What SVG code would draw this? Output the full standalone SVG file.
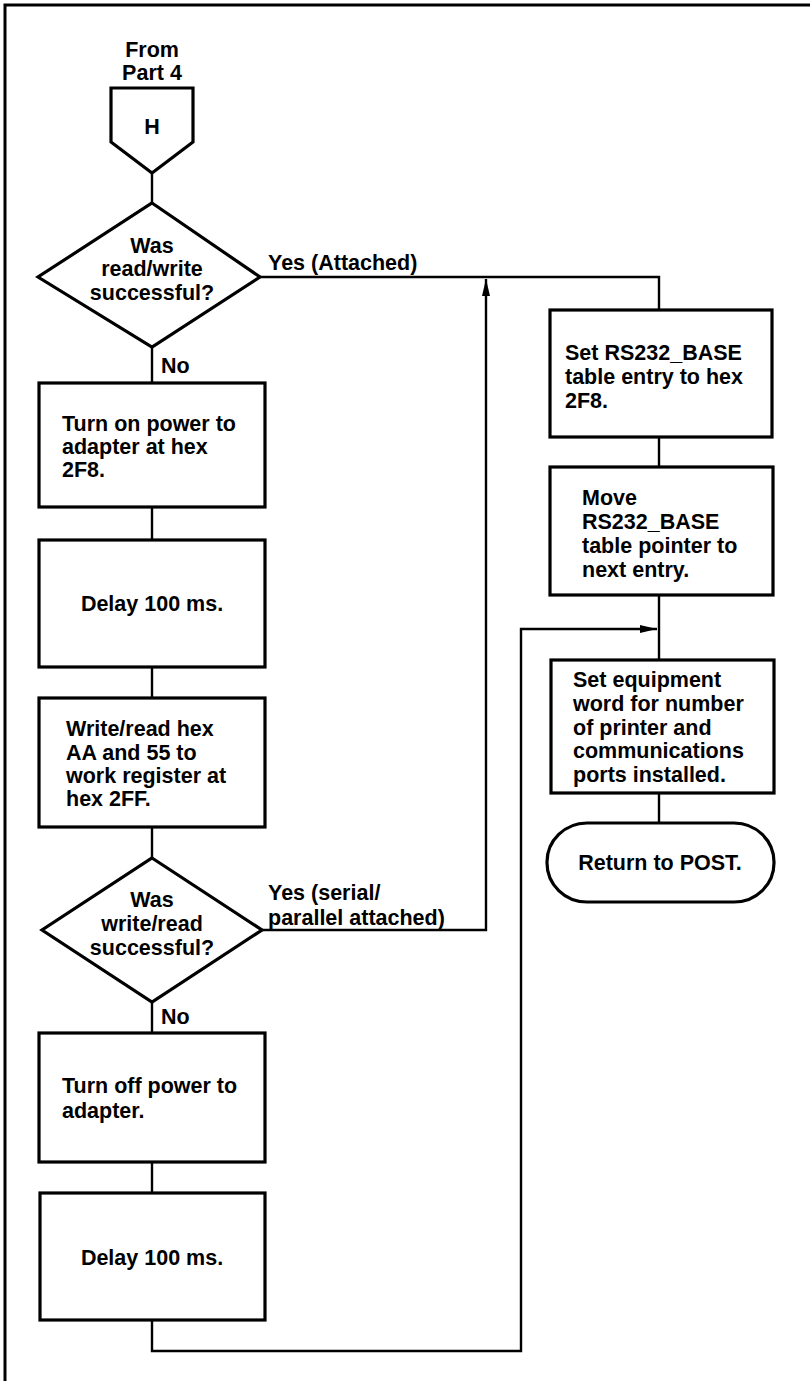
<svg xmlns="http://www.w3.org/2000/svg" width="810" height="1381" viewBox="0 0 810 1381">
  <style>
    .frame { fill: none; stroke: #000; stroke-width: 3; }
    .shape { fill: #fff; stroke: #000; stroke-width: 3.2; stroke-linejoin: miter; }
    .link { fill: none; stroke: #000; stroke-width: 2.4; }
    text { font-family: "Liberation Sans", Arial, Helvetica, sans-serif; font-weight: bold; font-size: 21.5px; fill: #000; }
    .c { text-anchor: middle; }
  </style>
  <defs>
    <marker id="arrow" markerUnits="userSpaceOnUse" markerWidth="18" markerHeight="10" refX="17" refY="5" orient="auto">
      <path d="M0,1 L17,5 L0,9 Z" fill="#000"/>
    </marker>
  </defs>

  <rect width="810" height="1381" fill="#fff"/>
  <!-- page frame (top and left rules) -->
  <path class="frame" d="M5,1381 V5 H810"/>

  <!-- connectors -->
  <g id="connectors">
    <line class="link" x1="152" y1="173" x2="152" y2="203"/>
    <line class="link" x1="152" y1="347" x2="152" y2="383"/>
    <line class="link" x1="152" y1="507" x2="152" y2="540"/>
    <line class="link" x1="152" y1="667" x2="152" y2="698"/>
    <line class="link" x1="152" y1="827" x2="152" y2="858"/>
    <line class="link" x1="152" y1="1002" x2="152" y2="1033"/>
    <line class="link" x1="152" y1="1162" x2="152" y2="1193"/>
    <!-- yes from first decision to right column -->
    <path class="link" d="M260,277 H659 V310"/>
    <!-- yes from second decision joins upward -->
    <path class="link" d="M262,930 H486 V279" marker-end="url(#arrow)"/>
    <!-- right column -->
    <line class="link" x1="659" y1="437" x2="659" y2="467"/>
    <line class="link" x1="659" y1="595" x2="659" y2="660"/>
    <line class="link" x1="659" y1="793" x2="659" y2="823"/>
    <!-- loop back from final delay -->
    <path class="link" d="M152,1320 V1351 H521 V629 H657" marker-end="url(#arrow)"/>
  </g>

  <!-- off-page connector H -->
  <g id="entry-h">
    <text class="c" x="152" y="57">From</text>
    <text class="c" x="152" y="80">Part 4</text>
    <path class="shape" d="M111,88 H193 V142 L152,173 L111,142 Z"/>
    <text class="c" x="152" y="134">H</text>
  </g>

  <g id="decision-read-write">
    <path class="shape" d="M152,203 L260,277 L152,347 L38,277 Z"/>
    <text class="c" x="152" y="253">Was</text>
    <text class="c" x="152" y="276">read/write</text>
    <text class="c" x="152" y="300">successful?</text>
    <text x="268" y="270">Yes (Attached)</text>
    <text x="161" y="373">No</text>
  </g>

  <g id="power-on">
    <rect class="shape" x="39" y="383" width="226" height="124"/>
    <text x="62" y="431">Turn on power to</text>
    <text x="62" y="454">adapter at hex</text>
    <text x="62" y="477">2F8.</text>
  </g>

  <g id="delay-1">
    <rect class="shape" x="39" y="540" width="226" height="127"/>
    <text class="c" x="152" y="611">Delay 100 ms.</text>
  </g>

  <g id="write-read">
    <rect class="shape" x="39" y="698" width="226" height="129"/>
    <text x="66" y="736">Write/read hex</text>
    <text x="66" y="760">AA and 55 to</text>
    <text x="66" y="783">work register at</text>
    <text x="66" y="806">hex 2FF.</text>
  </g>

  <g id="decision-write-read">
    <path class="shape" d="M152,858 L262,930 L152,1002 L42,930 Z"/>
    <text class="c" x="152" y="907">Was</text>
    <text class="c" x="152" y="931">write/read</text>
    <text class="c" x="152" y="955">successful?</text>
    <text x="268" y="900">Yes (serial/</text>
    <text x="268" y="925">parallel attached)</text>
    <text x="161" y="1024">No</text>
  </g>

  <g id="power-off">
    <rect class="shape" x="39" y="1033" width="226" height="129"/>
    <text x="62" y="1093">Turn off power to</text>
    <text x="62" y="1118">adapter.</text>
  </g>

  <g id="delay-2">
    <rect class="shape" x="40" y="1193" width="225" height="127"/>
    <text class="c" x="152" y="1265">Delay 100 ms.</text>
  </g>

  <g id="set-base">
    <rect class="shape" x="550" y="310" width="222" height="127"/>
    <text x="565" y="360">Set RS232_BASE</text>
    <text x="565" y="384">table entry to hex</text>
    <text x="565" y="408">2F8.</text>
  </g>

  <g id="move-pointer">
    <rect class="shape" x="550" y="467" width="223" height="128"/>
    <text x="582" y="505">Move</text>
    <text x="582" y="529">RS232_BASE</text>
    <text x="582" y="553">table pointer to</text>
    <text x="582" y="577">next entry.</text>
  </g>

  <g id="equipment-word">
    <rect class="shape" x="551" y="660" width="223" height="133"/>
    <text x="573" y="687">Set equipment</text>
    <text x="573" y="711">word for number</text>
    <text x="573" y="735">of printer and</text>
    <text x="573" y="758">communications</text>
    <text x="573" y="782">ports installed.</text>
  </g>

  <g id="return-post">
    <rect class="shape" x="547" y="823" width="227" height="79" rx="40" ry="39"/>
    <text class="c" x="660" y="870">Return to POST.</text>
  </g>
</svg>
